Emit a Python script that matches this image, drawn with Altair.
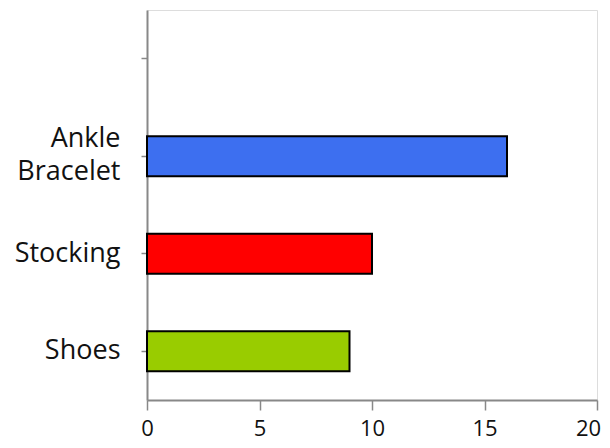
import altair as alt
import pandas as pd

categories = ["Ankle Bracelet", "Stocking", "Shoes"]
values = [16, 10, 9]
colors = ["#3D6FF0", "#FF0000", "#99CC00"]
domain_order = [" ", "Ankle Bracelet", "Stocking", "Shoes"]
x_ticks = [0, 5, 10, 15, 20]

df = pd.DataFrame({"item": categories, "count": values, "color": colors})

font = "Open Sans"

chart = alt.Chart(df).mark_bar(stroke="black", strokeWidth=2).encode(
    x=alt.X("count:Q", scale=alt.Scale(domain=[0, 20], nice=False),
            axis=alt.Axis(values=x_ticks, title=None, grid=False,
                          tickSize=10, labelPadding=8, labelFontSize=22,
                          labelFont=font, labelColor="#111",
                          labelOffset={"condition": {"test": "datum.value == 20", "value": -9}, "value": 0},
                          domainColor="#888", domainWidth=2,
                          tickColor="#888", tickWidth=1.5,
                          labelFlush=False)),
    y=alt.Y("item:N", scale=alt.Scale(domain=domain_order, paddingInner=0.59, paddingOuter=0.295),
            axis=alt.Axis(title=None, tickSize=6, labelPadding=21, labelFontSize=27,
                          labelFont=font, labelColor="#111",
                          labelExpr="datum.label == 'Ankle Bracelet' ? ['Ankle\u00a0\u00a0', 'Bracelet'] : datum.label",
                          labelLineHeight=33,
                          labelOffset={"condition": {"test": "datum.value == 'Ankle Bracelet'", "value": -17}, "value": 0},
                          domainColor="#888", domainWidth=2,
                          tickColor="#888", tickWidth=1.5)),
    color=alt.Color("color:N", scale=None),
).properties(
    width=450, height=390,
    autosize=alt.AutoSizeParams(type="none"),
    padding={"left": 139, "top": 2, "right": 5, "bottom": 40},
).configure_view(stroke="#888", strokeWidth=2).configure(background="white")

chart.save("out.html", embed_options={"renderer": "svg", "actions": False})
